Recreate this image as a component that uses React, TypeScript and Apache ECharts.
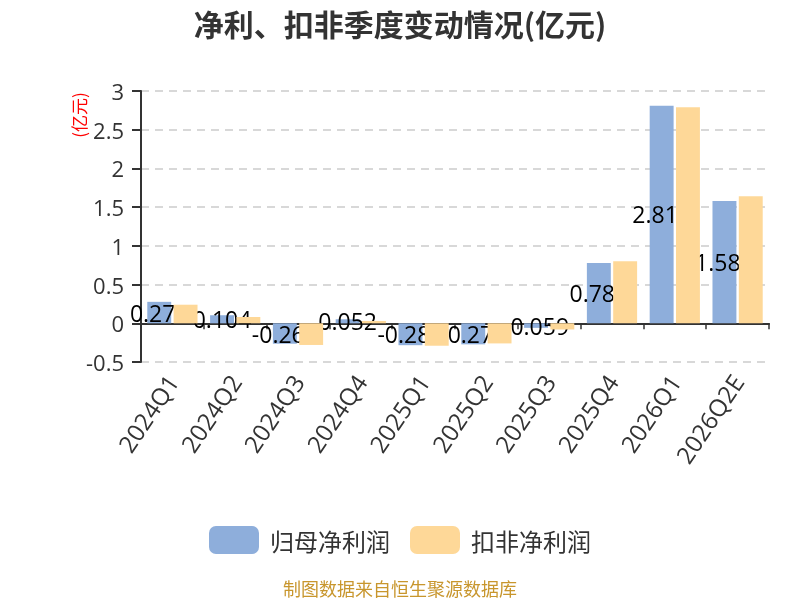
import React, { useEffect, useRef } from "react";
import * as echarts from "echarts";

const categories = ["2024Q1", "2024Q2", "2024Q3", "2024Q4", "2025Q1", "2025Q2", "2025Q3", "2025Q4", "2026Q1", "2026Q2E"];
const netProfit = [0.277, 0.104, -0.264, 0.052, -0.283, -0.272, -0.059, 0.78, 2.81, 1.58];
const deductedProfit = [0.24, 0.08, -0.28, 0.03, -0.29, -0.26, -0.08, 0.8, 2.79, 1.64];
const seriesNames = ["归母净利润", "扣非净利润"];
const titleText = "净利、扣非季度变动情况(亿元)";
const unitText = "(亿元)";
const sourceText = "制图数据来自恒生聚源数据库";

const CJK = "'Noto Sans CJK SC', 'Noto Sans', sans-serif";
const NUM = "'Open Sans', 'Noto Sans CJK SC', sans-serif";

export default function App() {
  const ref = useRef<HTMLDivElement>(null);
  useEffect(() => {
    if (!ref.current) return;
    const chart = echarts.init(ref.current, undefined, { renderer: "svg" });
    chart.setOption({
      animation: false,
      textStyle: { fontFamily: CJK },
      title: {
        text: titleText,
        left: "center",
        top: 3,
        textStyle: { fontSize: 30, fontWeight: "bold", color: "#333", fontFamily: CJK },
      },
      legend: {
        data: seriesNames,
        top: 521,
        left: "center",
        itemWidth: 50,
        itemHeight: 28,
        itemGap: 20,
        icon: "roundRect",
        textStyle: { fontSize: 24, color: "#333", fontFamily: CJK, padding: [0, 0, 0, 6] },
      },
      grid: { left: 141, right: 31, top: 91, bottom: 238, containLabel: false },
      xAxis: {
        type: "category",
        data: categories,
        axisLine: { onZero: true, lineStyle: { color: "#333", width: 2 } },
        axisTick: { show: true, length: 6, lineStyle: { color: "#333", width: 1.5 } },
        axisLabel: { rotate: 56, fontSize: 24, color: "#333", margin: 15, interval: 0, fontFamily: NUM },
      },
      yAxis: {
        type: "value",
        min: -0.5,
        max: 3,
        interval: 0.5,
        axisLine: { show: true, lineStyle: { color: "#333", width: 2 } },
        axisTick: { show: true, length: 9, lineStyle: { color: "#333", width: 2 } },
        axisLabel: { fontSize: 22, color: "#333", margin: 17, fontFamily: NUM },
        splitLine: { show: true, lineStyle: { color: "#ccc", type: [8, 6], width: 1.5 } },
      },
      series: [
        {
          name: seriesNames[0],
          type: "bar",
          data: netProfit,
          z: 2,
          barGap: "10%",
          barCategoryGap: "20%",
          itemStyle: { color: "#8eaedb" },
          label: {
            show: true,
            position: "inside",
            fontSize: 23,
            color: "#000",
            fontFamily: NUM,
            formatter: (p: any) => String(p.value).padEnd(5, "\u2007"),
          },
        },
        {
          name: seriesNames[1],
          type: "bar",
          data: deductedProfit,
          z: 3,
          barGap: "10%",
          barCategoryGap: "20%",
          itemStyle: { color: "#fed898" },
        },
      ],
      graphic: [
        {
          type: "text",
          x: 78,
          y: 115,
          rotation: Math.PI / 2,
          style: {
            text: unitText,
            fontSize: 17,
            fill: "#ff0000",
            fontFamily: CJK,
            textAlign: "center",
            textVerticalAlign: "middle",
          },
        },
        {
          type: "text",
          x: 400,
          y: 588,
          style: {
            text: sourceText,
            fontSize: 18,
            fill: "#c8962d",
            fontFamily: CJK,
            textAlign: "center",
            textVerticalAlign: "middle",
          },
        },
      ],
    });
    return () => chart.dispose();
  }, []);
  return <div ref={ref} style={{ position: "fixed", left: 0, top: 0, width: 800, height: 600 }} />;
}
